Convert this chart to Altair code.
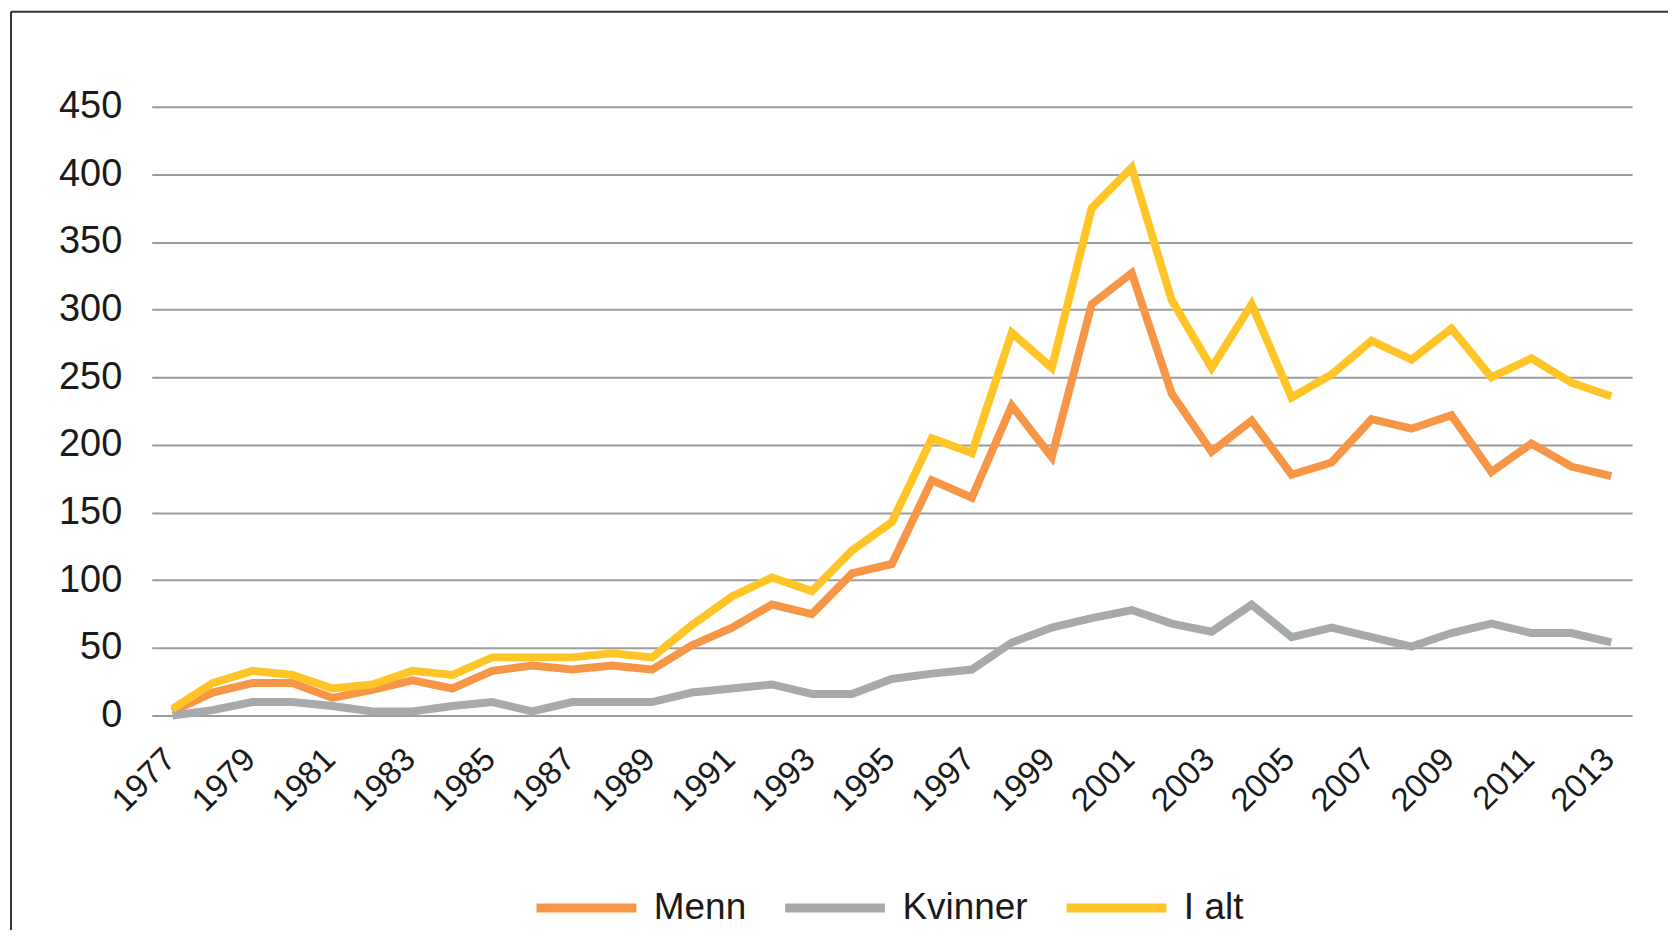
import altair as alt
import pandas as pd

years = list(range(1977, 2014))
menn = [3, 17, 24, 24, 13, 19, 26, 20, 33, 37, 34, 37, 34, 52, 65, 82, 75, 105, 112,
        174, 161, 229, 191, 304, 327, 238, 195, 218, 178, 187, 219, 212, 222, 180, 201, 184, 177]
kvinner = [0, 4, 10, 10, 7, 3, 3, 7, 10, 3, 10, 10, 10, 17, 20, 23, 16, 16, 27,
           31, 34, 54, 65, 72, 78, 68, 62, 82, 58, 65, 58, 51, 61, 68, 61, 61, 54]
i_alt = [5, 24, 33, 30, 20, 23, 33, 30, 43, 43, 43, 46, 43, 67, 88, 102, 92, 122, 143,
         205, 194, 283, 257, 375, 405, 307, 257, 304, 235, 252, 277, 263, 286, 250, 264, 246, 236]

series_names = ["Menn", "Kvinner", "I alt"]
series_colors = ["#F79646", "#A7AAAA", "#FFC425"]
x_ticks = list(range(1977, 2014, 2))
y_ticks = [0, 50, 100, 150, 200, 250, 300, 350, 400, 450]

rows = []
for name, vals in zip(series_names, [menn, kvinner, i_alt]):
    for y, v in zip(years, vals):
        rows.append({"year": y, "value": v, "series": name})
df = pd.DataFrame(rows)

FONT = "Liberation Sans"
TXT = "#1a1a1a"

lines = alt.Chart(df).mark_line(strokeWidth=8, strokeJoin="miter", strokeCap="butt").encode(
    x=alt.X("year:Q",
            scale=alt.Scale(domain=[1976.48, 2013.52], nice=False, zero=False),
            axis=alt.Axis(values=x_ticks, format="d", labelAngle=-45, labelAlign="right",
                          labelBaseline="top", labelPadding=27, labelOffset=-14,
                          labelFontSize=33, labelFont=FONT, labelColor=TXT,
                          domain=False, ticks=False, grid=False, title=None,
                          labelOverlap=False)),
    y=alt.Y("value:Q",
            scale=alt.Scale(domain=[0, 450], nice=False),
            axis=alt.Axis(values=y_ticks, labelFontSize=38, labelFont=FONT, labelColor=TXT,
                          labelPadding=30, domain=False, ticks=False, grid=True,
                          gridColor="#9C9C9C", gridWidth=2, title=None)),
    color=alt.Color("series:N",
                    scale=alt.Scale(domain=series_names, range=series_colors),
                    sort=series_names,
                    legend=alt.Legend(title=None, orient="none", direction="horizontal",
                                      legendX=381, legendY=748,
                                      symbolType="stroke", symbolSize=10000,
                                      symbolStrokeWidth=9, labelFontSize=37,
                                      labelFont=FONT, labelColor=TXT, labelOffset=13,
                                      columnPadding=20)),
)

frame_df = pd.DataFrame({"k": [0]})
top_line = alt.Chart(frame_df).mark_rule(color="#333333", strokeWidth=2).encode(
    x=alt.value(-141), x2=alt.value(1530), y=alt.value(-95))
left_line = alt.Chart(frame_df).mark_rule(color="#333333", strokeWidth=2).encode(
    x=alt.value(-141), y=alt.value(-95), y2=alt.value(830))

chart = alt.layer(lines, top_line, left_line).properties(
    width=1483, height=610,
    autosize=alt.AutoSizeParams(type="none"),
    padding={"left": 144, "top": 98, "right": 36, "bottom": 214},
    background="white",
).configure_view(stroke=None)

chart.save("out.html", embed_options={"renderer": "svg", "actions": False})
